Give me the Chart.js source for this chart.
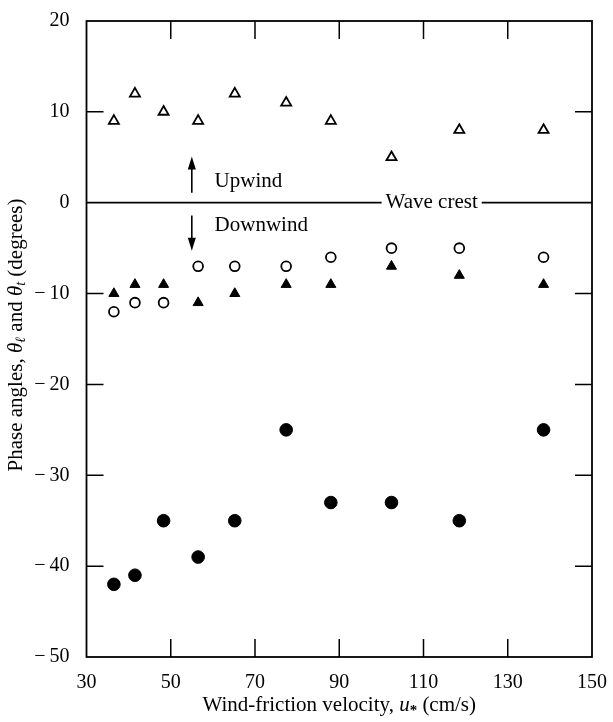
<!DOCTYPE html>
<html>
<head>
<meta charset="utf-8">
<script src="https://cdn.jsdelivr.net/npm/chart.js@4.4.1/dist/chart.umd.min.js"></script>
<style>
  body { margin: 0; background: #fff; }
  #wrap { width: 613px; height: 722px; }
</style>
</head>
<body>
<div id="wrap"><canvas id="chart" width="613" height="722"></canvas></div>
<script>
// values
const uStar = [36.5, 41.5, 48.3, 56.5, 65.2, 77.4, 88.0, 102.4, 118.5, 138.5];
const openTri = [9, 12, 10, 9, 12, 11, 9, 5, 8, 8];
const openCirc = [-12, -11, -11, -7, -7, -7, -6, -5, -5, -6];
const filledTri = [-10, -9, -9, -11, -10, -9, -9, -7, -8, -9];
const filledCirc = [-42, -41, -35, -39, -35, -25, -33, -33, -35, -25];
const xTicks = [30, 50, 70, 90, 110, 130, 150];
const yTicks = [20, 10, 0, -10, -20, -30, -40, -50];

const SERIF = '"Liberation Serif", "DejaVu Serif", serif';

const pts = ys => ys.map((y, i) => ({ x: uStar[i], y }));

function ds(data, style, fill, r, bw) {
    return {
        data: pts(data),
        pointStyle: style,
        pointRadius: r,
        pointHoverRadius: r,
        pointBorderWidth: bw,
        pointBorderColor: '#000',
        pointBackgroundColor: fill ? '#000' : '#fff',
        showLine: false
    };
}

// frame, inward ticks, wave crest line, arrows and labels
const decor = {
    id: 'decor',
    afterDraw(chart) {
        const { ctx, chartArea: ca, scales: { x, y } } = chart;
        ctx.save();
        ctx.strokeStyle = '#000';
        ctx.fillStyle = '#000';

        ctx.lineWidth = 1.8;
        ctx.strokeRect(ca.left, ca.top, ca.right - ca.left, ca.bottom - ca.top);

        ctx.lineWidth = 1.5;
        ctx.beginPath();
        xTicks.slice(1, -1).forEach(v => {
            const px = x.getPixelForValue(v);
            ctx.moveTo(px, ca.top); ctx.lineTo(px, ca.top + 18);
            ctx.moveTo(px, ca.bottom); ctx.lineTo(px, ca.bottom - 18);
        });
        yTicks.slice(1, -1).filter(v => v !== 0).forEach(v => {
            const py = y.getPixelForValue(v);
            ctx.moveTo(ca.left, py); ctx.lineTo(ca.left + 17, py);
            ctx.moveTo(ca.right, py); ctx.lineTo(ca.right - 17, py);
        });
        ctx.stroke();

        // wave crest line with label gap
        ctx.font = '21px ' + SERIF;
        ctx.textBaseline = 'middle';
        ctx.textAlign = 'left';
        const y0 = y.getPixelForValue(0);
        const wx = x.getPixelForValue(101);
        const ww = ctx.measureText('Wave crest').width;
        ctx.lineWidth = 1.8;
        ctx.beginPath();
        ctx.moveTo(ca.left, y0); ctx.lineTo(wx - 4, y0);
        ctx.moveTo(wx + ww + 4, y0); ctx.lineTo(ca.right, y0);
        ctx.stroke();
        ctx.fillText('Wave crest', wx, y0);

        // arrows
        const ax = x.getPixelForValue(55);
        const arrow = (from, to) => {
            const p1 = y.getPixelForValue(from), p2 = y.getPixelForValue(to);
            const dir = p2 < p1 ? 1 : -1;
            ctx.lineWidth = 1.6;
            ctx.beginPath();
            ctx.moveTo(ax, p1); ctx.lineTo(ax, p2 + dir * 10);
            ctx.stroke();
            ctx.beginPath();
            ctx.moveTo(ax, p2);
            ctx.lineTo(ax - 4, p2 + dir * 13);
            ctx.lineTo(ax + 4, p2 + dir * 13);
            ctx.closePath();
            ctx.fill();
        };
        arrow(1.1, 5.1);
        arrow(-1.4, -5.3);
        ctx.fillText('Upwind', x.getPixelForValue(60.4), y.getPixelForValue(2.3));
        ctx.fillText('Downwind', x.getPixelForValue(60.4), y.getPixelForValue(-2.5));

        // rich text pieces centred on (cx, cy): [text, font, dy]
        const drawParts = (list, cx, cy) => {
            let total = 0;
            list.forEach(p => { ctx.font = p[1]; total += ctx.measureText(p[0]).width; });
            let cur = cx - total / 2;
            list.forEach(p => {
                ctx.font = p[1];
                ctx.fillText(p[0], cur, cy + p[2]);
                cur += ctx.measureText(p[0]).width;
            });
        };
        ctx.textBaseline = 'middle';
        drawParts([
            ['Wind-friction velocity, ', '21px ' + SERIF, 0],
            ['u', 'italic 21px ' + SERIF, 0],
            ['*', 'bold 15px ' + SERIF, 6],
            [' (cm/s)', '21px ' + SERIF, 0]
        ], (ca.left + ca.right) / 2, 705);

        // y title, rotated
        ctx.save();
        ctx.translate(16, (ca.top + ca.bottom) / 2 - 4);
        ctx.rotate(-Math.PI / 2);
        drawParts([
            ['Phase angles, ', '21px ' + SERIF, 0],
            ['\u03b8', 'italic 21px ' + SERIF, 0],
            ['\u2113', 'italic 14px ' + SERIF, 5],
            [' and ', '21px ' + SERIF, 0],
            ['\u03b8', 'italic 21px ' + SERIF, 0],
            ['t', 'italic 14px ' + SERIF, 5],
            [' (degrees)', '21px ' + SERIF, 0]
        ], 0, 0);
        ctx.restore();

        ctx.restore();
    }
};

const fmt = v => v < 0 ? '\u2212\u2009' + Math.abs(v) : String(v);

new Chart(document.getElementById('chart'), {
    type: 'scatter',
    data: {
        datasets: [
            ds(openTri, 'triangle', false, 5.8, 1.8),
            ds(openCirc, 'circle', false, 4.9, 1.8),
            ds(filledTri, 'triangle', true, 5.8, 1),
            ds(filledCirc, 'circle', true, 6.3, 1)
        ]
    },
    options: {
        responsive: false,
        animation: false,
        events: [],
        layout: { padding: { top: 15, right: 16, left: 0, bottom: 0 } },
        plugins: { legend: { display: false }, tooltip: { enabled: false } },
        scales: {
            x: {
                type: 'linear', min: 30, max: 150,
                afterBuildTicks: s => { s.ticks = xTicks.map(v => ({ value: v })); },
                afterFit: s => { s.height = 65; },
                grid: { display: false },
                border: { display: false },
                ticks: { color: '#000', padding: 6, maxRotation: 0, font: { family: SERIF, size: 20 } }
            },
            y: {
                type: 'linear', min: -50, max: 20,
                afterBuildTicks: s => { s.ticks = yTicks.map(v => ({ value: v })); },
                afterFit: s => { s.width = 86.5; },
                grid: { display: false },
                border: { display: false },
                ticks: { color: '#000', padding: 9, callback: fmt, font: { family: SERIF, size: 20 } }
            }
        }
    },
    plugins: [decor]
});
</script>
</body>
</html>
